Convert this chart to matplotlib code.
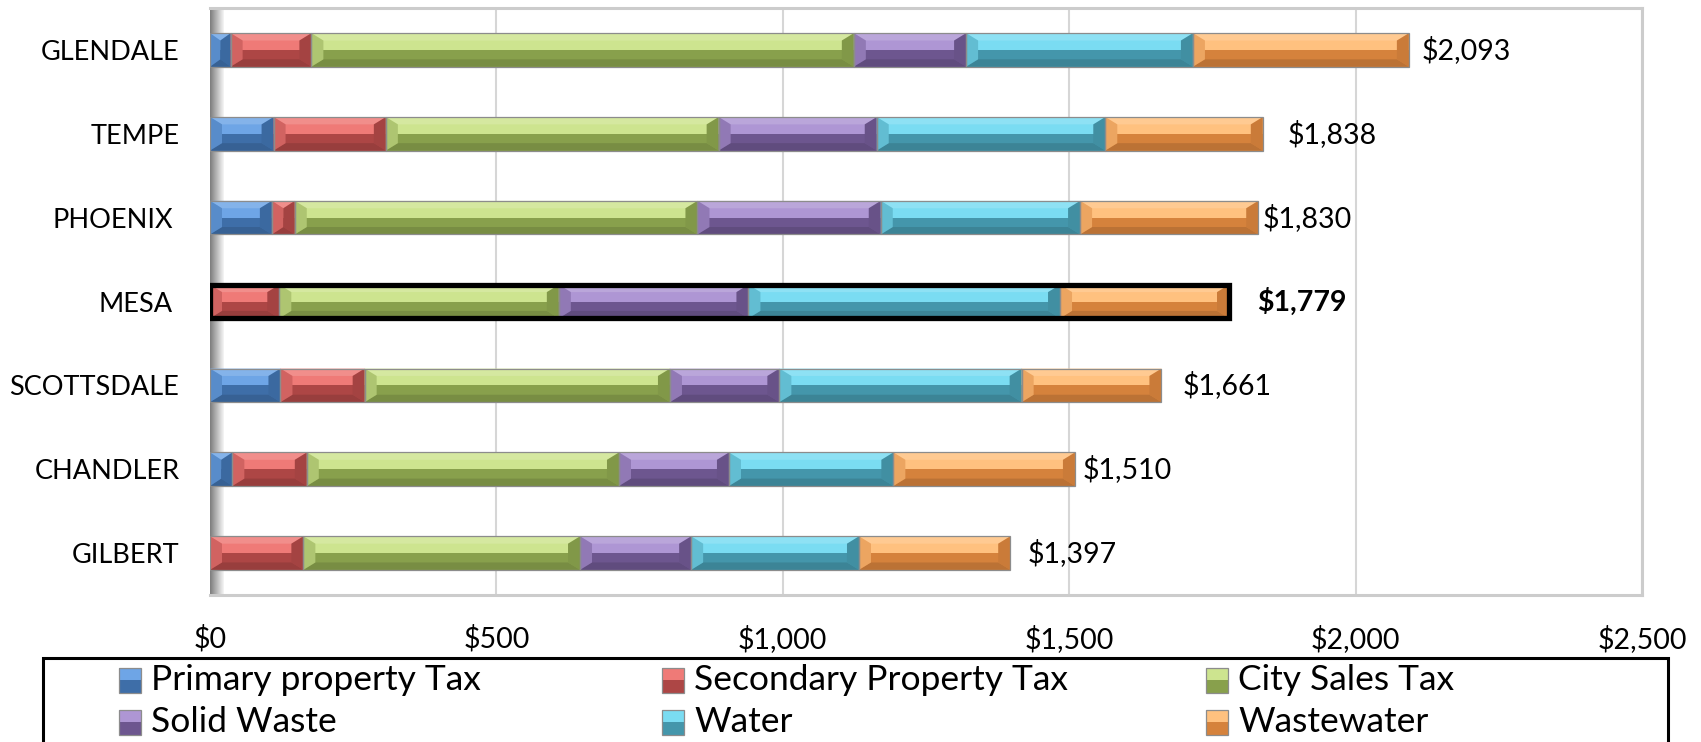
import matplotlib
matplotlib.use("Agg")
import matplotlib.pyplot as plt
from matplotlib.patches import Rectangle, Polygon
from matplotlib.transforms import ScaledTranslation

# ---------------- data ----------------
cities = ["GLENDALE", "TEMPE", "PHOENIX", "MESA", "SCOTTSDALE", "CHANDLER", "GILBERT"]
series = ["Primary property Tax", "Secondary Property Tax", "City Sales Tax",
          "Solid Waste", "Water", "Wastewater"]
primary_tax = [36, 111, 108, 0, 123, 39, 0]
secondary_tax = [141, 196, 40, 121, 147, 130, 163]
city_sales_tax = [947, 581, 703, 488, 533, 545, 483]
solid_waste = [196, 276, 320, 331, 191, 192, 194]
water = [396, 399, 348, 544, 423, 287, 293]
wastewater = [377, 275, 311, 295, 244, 317, 264]
total_labels = ["$2,093", "$1,838", "$1,830", "$1,779", "$1,661", "$1,510", "$1,397"]
highlight_city = "MESA"
xtick_values = [0, 500, 1000, 1500, 2000, 2500]
xtick_labels = ["$0", "$500", "$1,000", "$1,500", "$2,000", "$2,500"]

# ---------------- style ----------------
FONT = "Lato"
W, H = 1701, 742
# (light, dark) shades per series
shades = [("#6ea5e6", "#3e6ea8"),
          ("#ef7a77", "#ad4645"),
          ("#cde48f", "#88a04c"),
          ("#ae96d4", "#6d568f"),
          ("#7adcf2", "#4496ab"),
          ("#ffc17f", "#d5823c")]
label_gap_px = [13, 25, 4, 28, 21, 8, 17]
ylabel_shift_px = {"PHOENIX": 6.5, "MESA": 6.5}
bar_h = 0.40

values = [primary_tax, secondary_tax, city_sales_tax, solid_waste, water, wastewater]

fig = plt.figure(figsize=(W / 100, H / 100), dpi=100)
ax_left, ax_right, ax_top, ax_bot = 210, 1642, 8, 595
ax = fig.add_axes([ax_left / W, 1 - ax_bot / H, (ax_right - ax_left) / W, (ax_bot - ax_top) / H])

n = len(cities)
ax.set_xlim(0, 2500)
ax.set_ylim(n - 0.5, -0.5)

px_per_unit = (ax_right - ax_left) / 2500.0
bevel_px = 12


def blend(c, t, f):
    import matplotlib.colors as mc
    a = mc.to_rgb(c)
    b = mc.to_rgb(t)
    return tuple(a[i] * (1 - f) + b[i] * f for i in range(3))


def bevel_segment(x0, w, yc, light, dark, z=3):
    if w <= 0:
        return
    x1 = x0 + w
    top = yc - bar_h / 2
    bot = yc + bar_h / 2
    mid = yc
    dx = min(bevel_px / px_per_unit, w / 2.0)
    dy = bar_h * 0.22
    # face
    ax.add_patch(Rectangle((x0, mid), w, bar_h / 2, facecolor=dark, edgecolor="none", zorder=z))
    ax.add_patch(Rectangle((x0, top), w, bar_h / 2, facecolor=light, edgecolor="none", zorder=z))
    # top bevel (lightest)
    ax.add_patch(Polygon([(x0, top), (x1, top), (x1 - dx, top + dy), (x0 + dx, top + dy)],
                         closed=True, facecolor=blend(light, "white", 0.15), edgecolor="none", zorder=z + 0.1))
    # bottom bevel (darkest)
    ax.add_patch(Polygon([(x0, bot), (x1, bot), (x1 - dx, bot - dy), (x0 + dx, bot - dy)],
                         closed=True, facecolor=blend(dark, "black", 0.12), edgecolor="none", zorder=z + 0.1))
    # left bevel
    ax.add_patch(Polygon([(x0, top), (x0 + dx, top + dy), (x0 + dx, bot - dy), (x0, bot)],
                         closed=True, facecolor=blend(light, dark, 0.45), edgecolor="none", zorder=z + 0.2))
    # right bevel
    ax.add_patch(Polygon([(x1, top), (x1 - dx, top + dy), (x1 - dx, bot - dy), (x1, bot)],
                         closed=True, facecolor=blend(dark, "black", 0.05), edgecolor="none", zorder=z + 0.2))
    # outline
    ax.add_patch(Rectangle((x0, top), w, bar_h, facecolor="none", edgecolor="#8c8c8c",
                           linewidth=0.9, zorder=z + 0.3))


totals = []
for i, city in enumerate(cities):
    left = 0
    for s in range(len(series)):
        v = values[s][i]
        bevel_segment(left, v, i, shades[s][0], shades[s][1])
        left += v
    totals.append(left)

# highlight frame around Mesa
hi = cities.index(highlight_city)
ax.add_patch(Rectangle((0, hi - bar_h / 2), totals[hi], bar_h, facecolor="none",
                       edgecolor="black", linewidth=3.8, zorder=6, joinstyle="miter"))

# value labels
for i, lab in enumerate(total_labels):
    ax.annotate(lab, xy=(totals[i], i), xytext=(label_gap_px[i] * 0.72, 0),
                textcoords="offset points", ha="left", va="center",
                fontsize=20.5, family=FONT,
                fontweight="bold" if cities[i] == highlight_city else "normal",
                color="black", zorder=7)

# axes styling
ax.set_xticks(xtick_values)
ax.set_xticklabels(xtick_labels, fontsize=20.5, family=FONT)
ax.set_yticks(range(n))
ax.set_yticklabels(cities, fontsize=19.5, family=FONT)
ax.tick_params(axis="both", length=0)
ax.tick_params(axis="x", pad=21.5)
ax.tick_params(axis="y", pad=22)
for lab in ax.get_yticklabels():
    sh = ylabel_shift_px.get(lab.get_text(), 0)
    if sh:
        lab.set_transform(lab.get_transform() + ScaledTranslation(-sh / 100, 0, fig.dpi_scale_trans))

ax.xaxis.grid(True, color="#d6d6d6", linewidth=1.5, zorder=0)
ax.set_axisbelow(True)
for sp in ["top", "right", "bottom"]:
    ax.spines[sp].set_color("#cccccc")
    ax.spines[sp].set_linewidth(2.2)
ax.spines["left"].set_visible(False)

# left wall gradient (3D wall look)
wall_px = 14
nsteps = 14
ax_w_px = ax_right - ax_left
for k in range(nsteps):
    f = k / (nsteps - 1)
    g = 0.50 + 0.45 * f
    ax.add_patch(Rectangle((k * wall_px / nsteps / ax_w_px, 0), wall_px / nsteps / ax_w_px, 1,
                           transform=ax.transAxes, facecolor=(g, g, g), edgecolor="none",
                           zorder=1, clip_on=False))

# ---------------- legend (manual) ----------------
leg_left, leg_right, leg_top = 43, 1668, 658
fig.patches.append(Rectangle((leg_left / W, -0.05), (leg_right - leg_left) / W,
                             (H - leg_top) / H + 0.05, transform=fig.transFigure,
                             facecolor="white", edgecolor="black", linewidth=2.2, zorder=1))
col_marker_x = [119, 662, 1206]
row_center_y = [680, 722]
mk_w, mk_h = 22, 25
for s, name in enumerate(series):
    c, r = s % 3, s // 3
    mx = col_marker_x[c]
    cy = row_center_y[r]
    light, dark = shades[s]
    fig.patches.append(Rectangle((mx / W, 1 - (cy + mk_h / 2) / H), mk_w / W, mk_h / 2 / H,
                                 transform=fig.transFigure, facecolor=dark, edgecolor="none", zorder=2))
    fig.patches.append(Rectangle((mx / W, 1 - cy / H), mk_w / W, mk_h / 2 / H,
                                 transform=fig.transFigure, facecolor=light, edgecolor="none", zorder=2))
    fig.patches.append(Rectangle((mx / W, 1 - (cy + mk_h / 2) / H), mk_w / W, mk_h / H,
                                 transform=fig.transFigure, facecolor="none", edgecolor="#8c8c8c",
                                 linewidth=0.9, zorder=3))
    fig.text((mx + mk_w + 10) / W, 1 - cy / H, name, ha="left", va="center",
             fontsize=25.5, family=FONT, color="black", zorder=4)

fig.savefig("out.png", dpi=100)
